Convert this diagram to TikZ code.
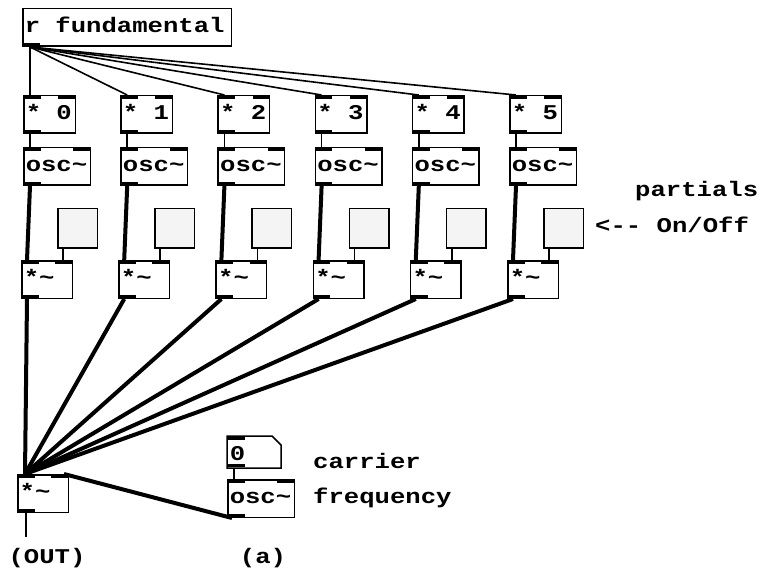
\documentclass[tikz,border=0pt]{standalone}
\usepackage{fontspec}
\setmonofont{Liberation Mono}[FakeStretch=1.22]
\definecolor{tglgray}{RGB}{244,244,244}
\newcommand{\pdfont}{\ttfamily\bfseries\fontsize{21}{24}\selectfont}
\newcommand{\pdsp}{\phantom{0}}
\tikzset{
  pdbox/.style={draw,line width=1.5pt,anchor=north west,inner xsep=2pt,inner ysep=0pt,
    minimum height=37.5pt,text width=#1,text height=24pt,text depth=13.5pt,font=\pdfont},
  io3/.style={path picture={
    \fill (path picture bounding box.north west) rectangle ++(17pt,-3.5pt);
    \fill (path picture bounding box.north east) rectangle ++(-17pt,-3.5pt);
    \fill (path picture bounding box.south west) rectangle ++(17pt,3.5pt);}},
  io2/.style={path picture={
    \fill (path picture bounding box.north west) rectangle ++(17pt,-3.5pt);
    \fill (path picture bounding box.south west) rectangle ++(17pt,3.5pt);}},
  io1/.style={path picture={\fill (path picture bounding box.south west) rectangle ++(17pt,3.5pt);}},
  tgl/.style={draw,line width=1.5pt,fill=tglgray,anchor=north west,minimum size=39.5pt,inner sep=0pt},
  thinwire/.style={line width=1.6pt},
  thickwire/.style={line width=4pt},
  lbl/.style={inner sep=0pt,font=\pdfont}
}
\begin{document}
\begin{tikzpicture}[x=1pt,y=-1pt]
  \useasboundingbox (0,0) rectangle (763,572);
  \node[pdbox=204.5pt,io1] (fund) at (22,8) {r\pdsp fundamental};
  % one column per partial
  \foreach \k in {0,...,5}{
    \pgfmathsetmacro{\cx}{23+97.2*\k}
    \node[pdbox=47.5pt,io3] (mul\k) at (\cx,95) {*\pdsp\k};
    \node[pdbox=62.5pt,io3] (osc\k) at (\cx,147) {osc\textasciitilde};
    \node[tgl,io2] (tgl\k) at (\cx+34,208) {};
    \node[pdbox=46.5pt,io3] (amp\k) at (\cx-2,260) {*\textasciitilde};
    \draw[thinwire] ([xshift=8pt]fund.south west) -- ([xshift=7pt]mul\k.north west);
    \draw[thinwire] ([xshift=7pt]mul\k.south west) -- ([xshift=7pt]osc\k.north west);
    \draw[thickwire] ([xshift=7pt]osc\k.south west) -- ([xshift=6pt]amp\k.north west);
    \draw[thinwire] ([xshift=6pt]tgl\k.south west) -- ([xshift=6pt]tgl\k.south west |- amp\k.north);
  }
  % output stage
  \node[pdbox=46.5pt,io3] (out) at (17,474) {*\textasciitilde};
  \node[pdbox=48.5pt,draw=none,minimum height=30.5pt,text height=23.5pt,text depth=7pt,io2] (msg) at (227,436) {0};
  \draw[line width=1.5pt] (msg.north west) -- ([xshift=-9pt]msg.north east) -- ([yshift=-9pt]msg.north east)
    -- (msg.south east) -- (msg.south west) -- cycle;
  \node[pdbox=62.5pt,io3] (car) at (227,479) {osc\textasciitilde};
  \foreach \k in {0,...,5}{\draw[thickwire] ([xshift=6pt]amp\k.south west) -- ([xshift=8pt]out.north west);}
  \draw[thinwire] ([xshift=7pt]msg.south west) -- ([xshift=7pt]car.north west);
  \draw[thickwire] ([xshift=-5pt]out.north east) -- ([xshift=5pt]car.south west);
  \coordinate (outend) at (26,537);
  \draw[thinwire] ([xshift=9pt]out.south west) -- (outend);
  % comments
  \node[lbl,anchor=base west] (partials) at (635,197) {partials};
  \node[lbl,anchor=base west] (onoff) at (595,233) {<-{}- On/Off};
  \node[lbl,anchor=base west] (carrier) at (313,468) {carrier};
  \node[lbl,anchor=base west] (freq) at (313,503) {frequency};
  \node[lbl,anchor=base] (outlbl) at (47,563) {(OUT)};
  \node[lbl,anchor=base] (alabel) at (263,563) {(a)};
\end{tikzpicture}
\end{document}
